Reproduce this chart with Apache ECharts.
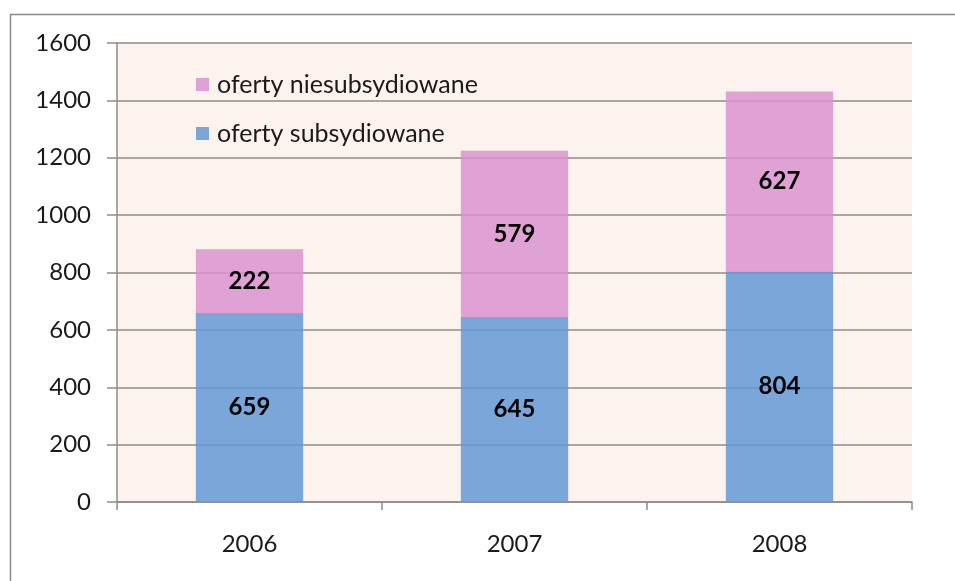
<!DOCTYPE html>
<html><head><meta charset="utf-8">
<script src="https://cdn.jsdelivr.net/npm/echarts@6/dist/echarts.min.js"></script>
<style>html,body{margin:0;padding:0;background:#fff}#c{width:955px;height:581px}</style>
</head><body><div id="c"></div>
<script>
const categories = ['2006', '2007', '2008'];
const subsidized = [659, 645, 804];
const unsubsidized = [222, 579, 627];
const nameSub = 'oferty subsydiowane';
const nameUnsub = 'oferty niesubsydiowane';
const yTicks = {min: 0, max: 1600, interval: 200};

const FONT = 'Lato';
const chart = echarts.init(document.getElementById('c'));
chart.setOption({
  animation: false,
  backgroundColor: '#ffffff',
  graphic: [{
    type: 'rect', left: 8, top: 12, z: 100,
    shape: {x: 0, y: 0, width: 1000, height: 1000},
    style: {fill: 'none', stroke: '#8a8a8a', lineWidth: 1.5}
  }],
  grid: {left: 117, right: 43, top: 43, bottom: 79, show: true, backgroundColor: '#fdf3ee', borderWidth: 0},
  legend: {
    orient: 'vertical', left: 196, top: 72, padding: 0,
    itemWidth: 13, itemHeight: 13, itemGap: 24,
    icon: 'rect',
    data: [nameUnsub, nameSub],
    textStyle: {fontFamily: FONT, fontSize: 25, color: '#1a1a1a', lineHeight: 24, padding: [0, 0, 0, 3]}
  },
  xAxis: {
    type: 'category', data: categories,
    axisLine: {lineStyle: {color: '#8c8c8c', width: 1.5}},
    axisTick: {show: true, length: 8, alignWithLabel: false, lineStyle: {color: '#8c8c8c', width: 1.5}},
    axisLabel: {fontFamily: FONT, fontSize: 24, color: '#1a1a1a', margin: 30}
  },
  yAxis: {
    type: 'value', min: yTicks.min, max: yTicks.max, interval: yTicks.interval,
    axisLine: {show: true, lineStyle: {color: '#8c8c8c', width: 1.5}},
    axisTick: {show: true, length: 10, lineStyle: {color: '#8c8c8c', width: 1.5}},
    splitLine: {show: true, lineStyle: {color: '#8c8c8c', width: 1.5}},
    axisLabel: {fontFamily: FONT, fontSize: 24, color: '#1a1a1a', margin: 26, formatter: v => String(v)}
  },
  series: [
    {
      name: nameSub, type: 'bar', stack: 'a', data: subsidized, barWidth: '40.5%',
      itemStyle: {color: '#6398d6', opacity: 0.85},
      label: {show: true, position: 'inside', fontFamily: FONT, fontSize: 24, fontWeight: 'bold', color: '#000', opacity: 1}
    },
    {
      name: nameUnsub, type: 'bar', stack: 'a', data: unsubsidized, barWidth: '40.5%',
      itemStyle: {color: '#da92cf', opacity: 0.85},
      label: {show: true, position: 'inside', fontFamily: FONT, fontSize: 24, fontWeight: 'bold', color: '#000', opacity: 1}
    }
  ]
});
</script></body></html>
